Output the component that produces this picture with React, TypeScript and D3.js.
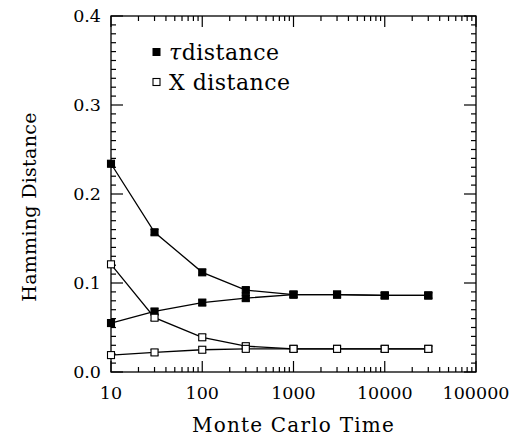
import React, { useEffect, useRef } from "react";
import * as d3 from "d3";

// Monte Carlo times where points were taken
const times = [10, 30, 100, 300, 1000, 3000, 10000, 30000];

// tau distance, two starting conditions
const tauHigh = [0.234, 0.157, 0.112, 0.092, 0.087, 0.087, 0.086, 0.086];
const tauLow = [0.055, 0.068, 0.078, 0.083, 0.087, 0.087, 0.086, 0.086];

// X distance, two starting conditions
const xHigh = [0.121, 0.061, 0.039, 0.029, 0.026, 0.026, 0.026, 0.026];
const xLow = [0.019, 0.022, 0.025, 0.026, 0.026, 0.026, 0.026, 0.026];

const errBar = 0.003;

const xTickLabels = ["10", "100", "1000", "10000", "100000"];
const yTickLabels = ["0.0", "0.1", "0.2", "0.3", "0.4"];

const App = () => {
  const chartRef = useRef<SVGSVGElement>(null);

  useEffect(() => {
    const svg = d3.select(chartRef.current);
    svg.selectAll("*").remove();

    const margin = { top: 16, right: 45, bottom: 66, left: 111 };
    const W = 521, H = 438;
    const width = W - margin.left - margin.right;
    const height = H - margin.top - margin.bottom;

    const x = d3.scaleLog().domain([10, 100000]).range([0, width]);
    const y = d3.scaleLinear().domain([0, 0.4]).range([height, 0]);

    const g = svg.append("g")
      .attr("transform", `translate(${margin.left},${margin.top})`)
      .attr("font-family", "DejaVu Serif");

    // frame
    g.append("rect")
      .attr("width", width)
      .attr("height", height)
      .attr("fill", "none")
      .attr("stroke", "#000")
      .attr("stroke-width", 1.3);

    // log ticks on x (bottom and top, pointing in)
    const xMinor: number[] = [];
    for (let d = 10; d < 100000; d *= 10) for (let k = 2; k <= 9; k++) xMinor.push(d * k);
    const xMajor = xTickLabels.map(Number);
    const tickLines = (vals: number[], len: number) => {
      vals.forEach(v => {
        g.append("line").attr("x1", x(v)).attr("x2", x(v)).attr("y1", height).attr("y2", height - len)
          .attr("stroke", "#000").attr("stroke-width", 1.2);
        g.append("line").attr("x1", x(v)).attr("x2", x(v)).attr("y1", 0).attr("y2", len)
          .attr("stroke", "#000").attr("stroke-width", 1.2);
      });
    };
    tickLines(xMinor, 5);
    tickLines(xMajor, 11);

    // linear ticks on y (left and right)
    const yMinor = d3.range(0, 41).map(i => i / 100);
    yMinor.forEach((v, i) => {
      const len = i % 10 === 0 ? 12 : 5;
      g.append("line").attr("x1", 0).attr("x2", len).attr("y1", y(v)).attr("y2", y(v))
        .attr("stroke", "#000").attr("stroke-width", 1.2);
      g.append("line").attr("x1", width).attr("x2", width - len).attr("y1", y(v)).attr("y2", y(v))
        .attr("stroke", "#000").attr("stroke-width", 1.2);
    });

    // tick labels
    g.selectAll(".xlab")
      .data(xTickLabels)
      .enter()
      .append("text")
      .attr("class", "xlab")
      .attr("x", d => x(+d))
      .attr("y", height + 27)
      .attr("text-anchor", "middle")
      .attr("font-size", 17.5)
      .text(d => d);

    g.selectAll(".ylab")
      .data(yTickLabels)
      .enter()
      .append("text")
      .attr("class", "ylab")
      .attr("x", -10)
      .attr("y", d => y(+d))
      .attr("dy", "0.35em")
      .attr("text-anchor", "end")
      .attr("font-size", 17.5)
      .text(d => d);

    // axis titles
    g.append("text")
      .attr("x", width / 2)
      .attr("y", height + 60)
      .attr("text-anchor", "middle")
      .attr("font-size", 20)
      .attr("letter-spacing", 1.2)
      .text("Monte Carlo Time");

    g.append("text")
      .attr("transform", `translate(${-75},${height / 2 + 13}) rotate(-90)`)
      .attr("text-anchor", "middle")
      .attr("font-size", 19)
      .attr("letter-spacing", 0.3)
      .text("Hamming Distance");

    // series
    const series = [
      { vals: tauHigh, filled: true },
      { vals: tauLow, filled: true },
      { vals: xHigh, filled: false },
      { vals: xLow, filled: false },
    ];
    const line = d3.line<[number, number]>()
      .x(d => x(d[0]))
      .y(d => y(d[1]));

    series.forEach(s => {
      const pts: [number, number][] = times.map((t, i) => [t, s.vals[i]]);
      g.append("path")
        .datum(pts)
        .attr("d", line)
        .attr("fill", "none")
        .attr("stroke", "#000")
        .attr("stroke-width", 1.3);

      // error bars
      pts.forEach(p => {
        const cx = x(p[0]);
        const y1 = y(p[1] - errBar), y2 = y(p[1] + errBar);
        g.append("line").attr("x1", cx).attr("x2", cx).attr("y1", y1).attr("y2", y2)
          .attr("stroke", "#000").attr("stroke-width", 1);
        [y1, y2].forEach(yy => {
          g.append("line").attr("x1", cx - 4).attr("x2", cx + 4).attr("y1", yy).attr("y2", yy)
            .attr("stroke", "#000").attr("stroke-width", 1);
        });
      });

      g.selectAll(null)
        .data(pts)
        .enter()
        .append("rect")
        .attr("x", d => x(d[0]) - 3.5)
        .attr("y", d => y(d[1]) - 3.5)
        .attr("width", 7)
        .attr("height", 7)
        .attr("fill", s.filled ? "#000" : "#fff")
        .attr("stroke", "#000")
        .attr("stroke-width", 1.1);
    });

    // legend
    const legend = g.append("g").attr("transform", "translate(42,36)");
    legend.append("rect").attr("x", 0).attr("y", -3.5).attr("width", 7).attr("height", 7)
      .attr("fill", "#000").attr("stroke", "#000");
    const t1 = legend.append("text").attr("x", 16).attr("y", 0).attr("dy", "0.35em")
      .attr("font-size", 22).attr("letter-spacing", 0.5);
    t1.append("tspan").attr("font-style", "italic").text("τ");
    t1.append("tspan").text("distance");

    legend.append("rect").attr("x", 0).attr("y", 26.5).attr("width", 7).attr("height", 7)
      .attr("fill", "#fff").attr("stroke", "#000").attr("stroke-width", 1.1);
    legend.append("text").attr("x", 16).attr("y", 30).attr("dy", "0.35em")
      .attr("font-size", 22).attr("letter-spacing", 0.5)
      .text("X distance");
  }, []);

  return (
    <svg
      ref={chartRef}
      width="521"
      height="438"
      style={{ position: "absolute", left: 0, top: 0, background: "#fff" }}
    ></svg>
  );
};

export default App;
